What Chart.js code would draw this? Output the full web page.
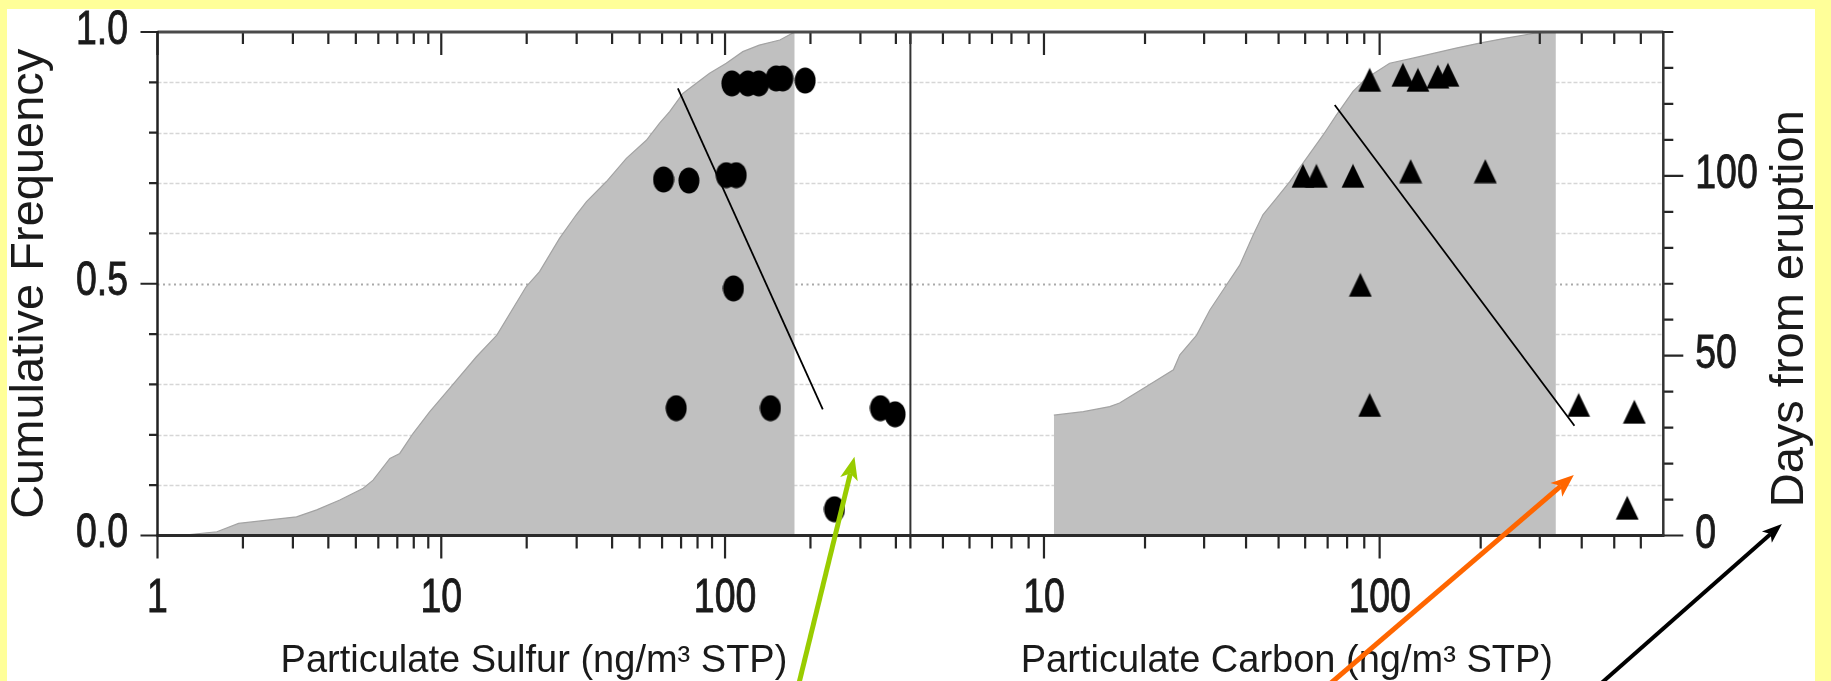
<!DOCTYPE html>
<html>
<head>
<meta charset="utf-8">
<script src="https://cdn.jsdelivr.net/npm/chart.js@4.4.1/dist/chart.umd.min.js"></script>
<style>
  html, body { margin: 0; padding: 0; overflow: hidden; background: #ffff99; }
  #wrap { position: relative; width: 1831px; height: 681px; }
  #paper { position: absolute; left: 7px; top: 9px; width: 1808px; height: 672px; background: #ffffff; }
  #c { position: absolute; left: 0; top: 0; }
</style>
</head>
<body>
<div id="wrap"><div id="paper"></div><canvas id="c" width="1831" height="681"></canvas></div>
<script>
// ---------------- data ----------------
// cumulative frequency distributions (grey areas)
const sulfurCurveX = [1, 1.3, 1.62, 1.93, 3.09, 3.64, 4.39, 5.31, 5.75, 6.59, 7.14, 7.96, 9.11, 10.7, 13.3, 15.7, 19.9, 22.2, 26.1, 29.9, 32.5, 38.2, 44.9, 52.8, 58.8, 63.8, 71.0, 88.2, 101, 115.5, 132, 156, 176];
const sulfurCurveF = [0, 0.002, 0.0075, 0.024, 0.037, 0.051, 0.0705, 0.094, 0.110, 0.153, 0.163, 0.203, 0.246, 0.292, 0.355, 0.398, 0.494, 0.524, 0.590, 0.637, 0.663, 0.703, 0.749, 0.785, 0.819, 0.842, 0.878, 0.918, 0.938, 0.961, 0.974, 0.984, 1.0];
const carbonCurveX = [10.7, 13.1, 15.7, 16.8, 20.2, 24.3, 25.4, 28.5, 31.2, 35.0, 38.3, 42.0, 44.9, 49.3, 54.0, 60.5, 67.8, 74.3, 83.3, 91.3, 107.1, 125.6, 169, 198.5, 238.3, 286, 331.9, 335];
const carbonCurveF = [0.239, 0.246, 0.256, 0.263, 0.296, 0.329, 0.359, 0.398, 0.448, 0.498, 0.537, 0.597, 0.637, 0.670, 0.703, 0.749, 0.795, 0.835, 0.882, 0.908, 0.938, 0.948, 0.968, 0.978, 0.988, 0.997, 1.0, 1.0];

// samples: concentration vs days from eruption
const sulfurPtsX    = [105.7, 120.3, 131.5, 151.4, 159.7, 191.6, 60.7, 74.6, 101.0, 109.5, 107.1, 67.3, 144.6, 352.8, 397.4, 243];
const sulfurPtsDays = [125.7, 125.7, 125.7, 127.1, 127.1, 126.5, 99.0, 98.7, 100.2, 100.2, 68.7, 35.4, 35.4, 35.4, 33.7, 7.3];
const carbonPtsX    = [93.4, 117.3, 130.0, 149.1, 159.7, 59.1, 64.8, 83.3, 123.7, 206.4, 87.6, 93.4, 391.7, 574, 546.6];
const carbonPtsDays = [126.7, 128.1, 126.7, 127.6, 128.1, 100.0, 100.0, 100.0, 101.3, 101.3, 69.7, 36.3, 36.3, 34.4, 7.7];

// trend lines
const sulfurTrendX = [68.2, 221];
const sulfurTrendDays = [124.3, 35.1];
const carbonTrendX = [73.5, 380.5];
const carbonTrendDays = [119.7, 30.5];

// ticks
const sulfurMajorTicks = [1, 10, 100];
const sulfurMinorTicks = [2, 3, 4, 5, 6, 7, 8, 9, 20, 30, 40, 50, 60, 70, 80, 90, 200, 300, 400];
const carbonMajorTicks = [10, 100];
const carbonMinorTicks = [4, 5, 6, 7, 8, 9, 20, 30, 40, 50, 60, 70, 80, 90, 200, 300, 400, 500, 600];
const freqMajorTicks = [0, 0.5, 1];
const freqTickLabels = ['0.0', '0.5', '1.0'];
const freqMinorTicks = [0.1, 0.2, 0.3, 0.4, 0.6, 0.7, 0.8, 0.9];
const freqGridLines = [0.1, 0.2, 0.3, 0.4, 0.5, 0.6, 0.7, 0.8, 0.9];
const daysMajorTicks = [0, 50, 100];
const daysMinorTicks = [10, 20, 30, 40, 60, 70, 80, 90, 110, 120, 130, 140];

// annotation arrows (data units of their panel: [concentration, days])
const arrowPanels = ['xS', 'xC', 'xC'];
const arrowFrom   = [[179.7, -43], [69.6, -42], [445.6, -42]];
const arrowTo     = [[285.8, 21.9], [378.9, 16.85], [1579, 3.2]];
const arrowColors = ['#99cc00', '#ff6600', '#000000'];

// ---------------- styling ----------------
const SANS = '"Liberation Sans", Arial, sans-serif';
const INK = '#1a1a1a';
const TICK_FONT = '48px ' + SANS;
const TICK_SQUEEZE = 0.78;   // condensed look of the tick numerals

function ellipseMarker(w, h) {
  const c = document.createElement('canvas');
  c.width = w; c.height = h;
  const g = c.getContext('2d');
  g.fillStyle = '#000';
  g.beginPath(); g.ellipse(w / 2, h / 2, w / 2 - 0.5, h / 2 - 0.5, 0, 0, Math.PI * 2); g.fill();
  return c;
}
function triangleMarker(w, h) {
  const c = document.createElement('canvas');
  c.width = w; c.height = h;
  const g = c.getContext('2d');
  g.fillStyle = '#000';
  g.beginPath(); g.moveTo(w / 2, 0.5); g.lineTo(w - 0.5, h - 0.5); g.lineTo(0.5, h - 0.5); g.closePath(); g.fill();
  return c;
}

const pts = (xs, ys) => xs.map((x, i) => ({x: x, y: ys[i]}));

function squeezedText(ctx, text, x, y, align) {
  ctx.save();
  ctx.translate(x, y);
  ctx.scale(TICK_SQUEEZE, 1);
  ctx.textAlign = align;
  ctx.textBaseline = 'alphabetic';
  ctx.fillText(text, 0, 0);
  ctx.lineWidth = 0.9;
  ctx.strokeText(text, 0, 0);
  ctx.restore();
}

const framePlugin = {
  id: 'frame',
  beforeDatasetsDraw(chart) {
    const {ctx, chartArea: a} = chart;
    const yF = chart.scales.yF;
    ctx.save();
    freqGridLines.forEach(v => {
      const y = Math.round(yF.getPixelForValue(v)) + 0.5;
      ctx.beginPath();
      if (v === 0.5) { ctx.strokeStyle = '#a9a9a9'; ctx.lineWidth = 2; ctx.setLineDash([2, 3.5]); }
      else { ctx.strokeStyle = '#d6d6d6'; ctx.lineWidth = 1.5; ctx.setLineDash([4, 2]); }
      ctx.moveTo(a.left, y); ctx.lineTo(a.right, y); ctx.stroke();
    });
    ctx.restore();
  },
  afterDatasetsDraw(chart) {
    const {ctx, chartArea: a} = chart;
    const {xS, xC, yF, yD} = chart.scales;
    ctx.save();
    ctx.strokeStyle = '#262626';
    ctx.lineWidth = 2.2;
    ctx.beginPath();
    const xt = (scale, vals, lb, lt) => vals.forEach(v => {
      const x = scale.getPixelForValue(v);
      ctx.moveTo(x, a.bottom); ctx.lineTo(x, a.bottom + lb);
      ctx.moveTo(x, a.top); ctx.lineTo(x, a.top + lt);
    });
    xt(xS, sulfurMinorTicks, 13, 12);
    xt(xS, sulfurMajorTicks, 23, 23);
    xt(xC, carbonMinorTicks, 13, 12);
    xt(xC, carbonMajorTicks, 23, 23);
    freqMinorTicks.forEach(v => { const y = yF.getPixelForValue(v); ctx.moveTo(a.left - 8.5, y); ctx.lineTo(a.left, y); });
    freqMajorTicks.forEach(v => { const y = yF.getPixelForValue(v); ctx.moveTo(a.left - 17, y); ctx.lineTo(a.left, y); });
    daysMinorTicks.forEach(v => { const y = yD.getPixelForValue(v); ctx.moveTo(a.right, y); ctx.lineTo(a.right + 10, y); });
    daysMajorTicks.forEach(v => { const y = yD.getPixelForValue(v); ctx.moveTo(a.right, y); ctx.lineTo(a.right + 20, y); });
    ctx.stroke();

    // frame lines
    const seg = (x0, y0, x1, y1, w, c) => { ctx.beginPath(); ctx.lineWidth = w; ctx.strokeStyle = c; ctx.moveTo(x0, y0); ctx.lineTo(x1, y1); ctx.stroke(); };
    seg(a.left, a.top, a.right, a.top, 3, '#4a4a4a');
    seg(a.left - 1, a.bottom, a.right + 1, a.bottom, 3, '#2a2a2a');
    seg(a.left, a.top - 1, a.left, a.bottom + 1, 2.5, '#222');
    seg(a.right, a.top - 1, a.right, a.bottom + 1, 2.5, '#333');
    seg(xS.right, a.top, xS.right, a.bottom, 2, '#333');

    // tick labels
    ctx.font = TICK_FONT;
    ctx.fillStyle = INK;
    ctx.strokeStyle = INK;
    sulfurMajorTicks.forEach(v => squeezedText(ctx, String(v), xS.getPixelForValue(v), a.bottom + 76.5, 'center'));
    carbonMajorTicks.forEach(v => squeezedText(ctx, String(v), xC.getPixelForValue(v), a.bottom + 76.5, 'center'));
    freqMajorTicks.forEach((v, i) => squeezedText(ctx, freqTickLabels[i], a.left - 29.5, yF.getPixelForValue(v) + 11.5, 'right'));
    daysMajorTicks.forEach(v => squeezedText(ctx, String(v), a.right + 32, yD.getPixelForValue(v) + 12.5, 'left'));
    ctx.restore();
  },
  afterDraw(chart) {
    const {ctx, chartArea: a} = chart;
    const yD = chart.scales.yD;
    ctx.save();
    // right axis title (reads bottom-to-top)
    ctx.translate(yD.right - 41, (a.top + a.bottom) / 2 + 25);
    ctx.rotate(-Math.PI / 2);
    ctx.font = '47px ' + SANS;
    ctx.fillStyle = INK;
    ctx.textAlign = 'center';
    ctx.textBaseline = 'middle';
    ctx.fillText('Days from eruption', 0, 0);
    ctx.restore();

    // arrows
    arrowFrom.forEach((f, i) => {
      const xs = chart.scales[arrowPanels[i]];
      const x0 = xs.getPixelForValue(f[0]), y0 = yD.getPixelForValue(f[1]);
      const x1 = xs.getPixelForValue(arrowTo[i][0]), y1 = yD.getPixelForValue(arrowTo[i][1]);
      const w = i === 2 ? 4 : 5, hl = i === 2 ? 20 : 23, hw = i === 2 ? 7.5 : 9;
      const ang = Math.atan2(y1 - y0, x1 - x0);
      const cs = Math.cos(ang), sn = Math.sin(ang);
      const bx = x1 - hl * cs, by = y1 - hl * sn;
      const nx = x1 - hl * 0.75 * cs, ny = y1 - hl * 0.75 * sn;
      ctx.save();
      ctx.strokeStyle = arrowColors[i]; ctx.fillStyle = arrowColors[i];
      ctx.lineWidth = w;
      ctx.beginPath(); ctx.moveTo(x0, y0); ctx.lineTo(nx, ny); ctx.stroke();
      ctx.beginPath(); ctx.moveTo(x1, y1);
      ctx.lineTo(bx - hw * sn, by + hw * cs);
      ctx.lineTo(nx, ny);
      ctx.lineTo(bx + hw * sn, by - hw * cs);
      ctx.closePath(); ctx.fill();
      ctx.restore();
    });
  }
};

new Chart(document.getElementById('c'), {
  type: 'scatter',
  data: {
    datasets: [
      { type: 'line', data: pts(sulfurCurveX, sulfurCurveF), xAxisID: 'xS', yAxisID: 'yF',
        fill: 'origin', backgroundColor: '#c0c0c0', borderColor: '#a3a3a3', borderWidth: 1.2,
        pointRadius: 0, tension: 0, order: 10 },
      { type: 'line', data: pts(carbonCurveX, carbonCurveF), xAxisID: 'xC', yAxisID: 'yF',
        fill: 'origin', backgroundColor: '#c0c0c0', borderColor: '#a3a3a3', borderWidth: 1.2,
        pointRadius: 0, tension: 0, order: 10 },
      { type: 'line', data: pts(sulfurTrendX, sulfurTrendDays), xAxisID: 'xS', yAxisID: 'yD',
        fill: false, borderColor: '#000', borderWidth: 1.8, pointRadius: 0, order: 5 },
      { type: 'line', data: pts(carbonTrendX, carbonTrendDays), xAxisID: 'xC', yAxisID: 'yD',
        fill: false, borderColor: '#000', borderWidth: 1.8, pointRadius: 0, order: 5 },
      { type: 'scatter', data: pts(sulfurPtsX, sulfurPtsDays), xAxisID: 'xS', yAxisID: 'yD',
        pointStyle: ellipseMarker(22, 27), pointRadius: 11, backgroundColor: '#000', borderWidth: 0, order: 1 },
      { type: 'scatter', data: pts(carbonPtsX, carbonPtsDays), xAxisID: 'xC', yAxisID: 'yD',
        pointStyle: triangleMarker(24, 25), pointRadius: 12, backgroundColor: '#000', borderWidth: 0, order: 1 }
    ]
  },
  options: {
    responsive: false,
    devicePixelRatio: 1,
    animation: false,
    events: [],
    layout: { padding: {top: 32, left: 0, right: 0, bottom: 0} },
    plugins: { legend: {display: false}, tooltip: {enabled: false} },
    scales: {
      xS: {
        type: 'logarithmic', position: 'bottom', stack: 'panels', stackWeight: 1,
        min: 1, max: 450,
        grid: {display: false}, border: {display: false},
        afterFit: s => { s.height = 145.5; },
        ticks: { display: false },
        title: { display: true, text: 'Particulate Sulfur (ng/m³ STP)', color: INK,
                 font: {family: SANS, size: 38, lineHeight: 1}, padding: {top: 0, bottom: 0} }
      },
      xC: {
        type: 'logarithmic', position: 'bottom', stack: 'panels', stackWeight: 1,
        min: 4, max: 700,
        grid: {display: false}, border: {display: false},
        afterFit: s => { s.height = 145.5; },
        ticks: { display: false },
        title: { display: true, text: 'Particulate Carbon (ng/m³ STP)', color: INK,
                 font: {family: SANS, size: 38, lineHeight: 1}, padding: {top: 0, bottom: 0} }
      },
      yF: {
        type: 'linear', position: 'left', min: 0, max: 1,
        grid: {display: false}, border: {display: false},
        afterFit: s => { s.width = 157.5; },
        ticks: { display: false },
        title: { display: true, text: 'Cumulative Frequency', color: INK,
                 font: {family: SANS, size: 47, lineHeight: 1}, padding: {top: 7, bottom: 0} }
      },
      yD: {
        type: 'linear', position: 'right', min: 0, max: 140,
        grid: {display: false}, border: {display: false},
        afterFit: s => { s.width = 167.7; },
        ticks: { display: false }
      }
    }
  },
  plugins: [framePlugin]
});
</script>
</body>
</html>
